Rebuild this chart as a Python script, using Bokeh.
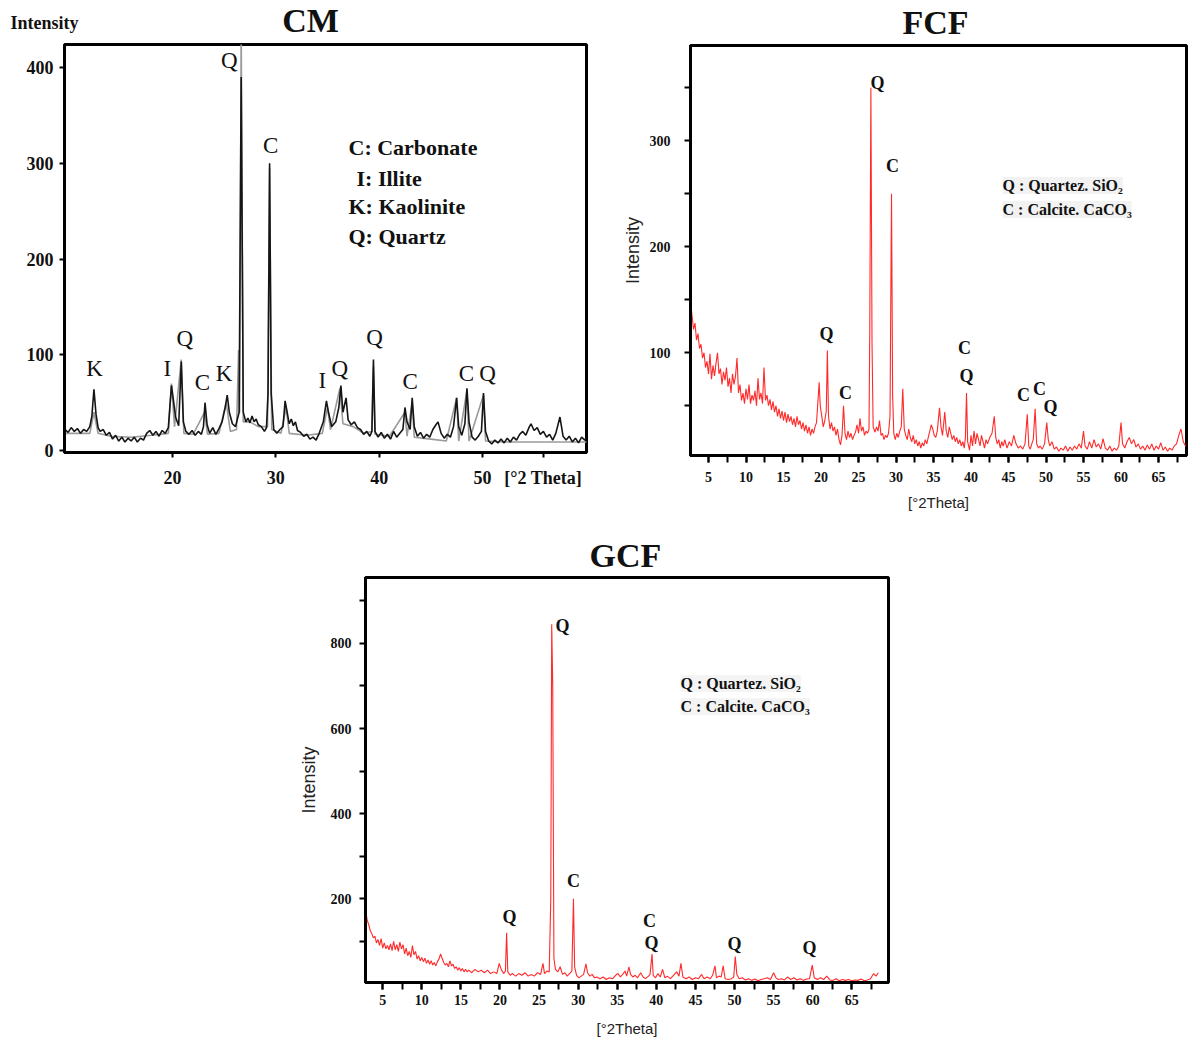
from bokeh.plotting import figure
from bokeh.models import Label, FixedTicker, Range1d
from bokeh.layouts import row, column, Spacer
from bokeh.embed import file_html
from bokeh.resources import INLINE

# ---------------- data ----------------
# CM, black trace: (2theta, intensity)
cm_black_pts = [
    (9.6, 22), (9.9, 19), (10.2, 24), (10.5, 20), (10.8, 23), (11.1, 18), (11.4, 22), (11.7, 20),
    (12.0, 25), (12.2, 36), (12.4, 64), (12.6, 38), (12.8, 24), (13.0, 20), (13.3, 22), (13.6, 16),
    (13.9, 19), (14.2, 12), (14.5, 16), (14.8, 10), (15.1, 14), (15.4, 9), (15.7, 13), (16.0, 10),
    (16.3, 14), (16.6, 9), (16.9, 13), (17.2, 11), (17.5, 18), (17.8, 21), (18.1, 16), (18.4, 20),
    (18.7, 15), (19.0, 21), (19.3, 18), (19.6, 24), (19.9, 68), (20.1, 52), (20.3, 35), (20.6, 26),
    (20.85, 93), (21.05, 30), (21.3, 20), (21.6, 17), (21.9, 21), (22.2, 16), (22.5, 20), (22.8, 17),
    (23.0, 25), (23.15, 50), (23.35, 27), (23.6, 18), (23.9, 24), (24.2, 17), (24.5, 23), (24.8, 30),
    (25.1, 45), (25.3, 58), (25.5, 40), (25.8, 28), (26.1, 25), (26.45, 40), (26.65, 390), (26.85, 40),
    (27.1, 30), (27.3, 34), (27.5, 29), (27.7, 36), (27.9, 30), (28.1, 33), (28.3, 27), (28.6, 25),
    (28.9, 20), (29.1, 24), (29.25, 60), (29.4, 300), (29.55, 60), (29.8, 22), (30.1, 18), (30.4, 22),
    (30.7, 25), (30.9, 52), (31.1, 40), (31.3, 28), (31.5, 33), (31.7, 26), (31.9, 30), (32.1, 21),
    (32.4, 19), (32.7, 15), (33.0, 17), (33.3, 12), (33.6, 14), (33.9, 11), (34.2, 18), (34.6, 30),
    (34.9, 52), (35.1, 40), (35.4, 25), (35.8, 30), (36.1, 45), (36.3, 68), (36.5, 40), (36.8, 55),
    (37.0, 32), (37.3, 27), (37.6, 30), (37.9, 24), (38.2, 22), (38.5, 17), (38.8, 20), (39.1, 15),
    (39.3, 20), (39.45, 95), (39.6, 20), (39.9, 14), (40.2, 19), (40.5, 13), (40.8, 17), (41.1, 12),
    (41.4, 20), (41.7, 14), (42.0, 18), (42.3, 22), (42.5, 45), (42.7, 30), (43.0, 22), (43.2, 55),
    (43.4, 25), (43.7, 15), (44.0, 19), (44.3, 13), (44.6, 17), (44.9, 14), (45.2, 22), (45.5, 27),
    (45.7, 30), (46.0, 18), (46.3, 13), (46.6, 17), (46.9, 14), (47.2, 25), (47.5, 55), (47.7, 25),
    (48.0, 16), (48.3, 28), (48.5, 65), (48.7, 30), (49.0, 14), (49.3, 11), (49.6, 15), (49.9, 20),
    (50.1, 60), (50.3, 20), (50.6, 10), (50.9, 7), (51.2, 11), (51.5, 8), (51.8, 12), (52.1, 8),
    (52.4, 13), (52.7, 9), (53.0, 14), (53.3, 11), (53.6, 17), (53.9, 20), (54.2, 16), (54.5, 24),
    (54.7, 28), (55.0, 21), (55.3, 24), (55.6, 17), (55.9, 20), (56.2, 14), (56.5, 17), (56.8, 11),
    (57.1, 18), (57.5, 35), (57.8, 15), (58.1, 11), (58.4, 15), (58.7, 9), (59.0, 13), (59.3, 8),
    (59.6, 14), (59.9, 11), (60.1, 14),
]
# CM, grey trace
cm_gray_pts = [
    (9.6, 18), (12.0, 18), (12.4, 40), (12.8, 18), (14.0, 15), (16.0, 14), (18.0, 16), (19.6, 18),
    (19.9, 70), (20.2, 25), (20.85, 95), (21.1, 18), (22.0, 17), (23.1, 40), (23.4, 17), (24.5, 18),
    (25.2, 50), (25.6, 20), (26.2, 22), (26.4, 105), (26.5, 40), (26.65, 440), (26.85, 30), (27.5, 30),
    (28.3, 25), (29.2, 25), (29.4, 295), (29.6, 22), (30.5, 18), (31.0, 45), (31.3, 18), (33.0, 16),
    (34.5, 18), (35.0, 45), (35.3, 22), (36.2, 65), (36.5, 28), (37.5, 25), (38.5, 18), (39.3, 20),
    (39.45, 88), (39.6, 17), (41.0, 15), (42.5, 40), (42.7, 15), (43.2, 50), (43.4, 14), (45.0, 12),
    (46.5, 10), (47.5, 55), (47.7, 10), (48.5, 63), (48.7, 10), (50.1, 58), (50.3, 10), (52.0, 9),
    (55.0, 9), (58.0, 9), (60.1, 9),
]
cm_lab_text = ["Q", "C", "K", "I", "Q", "C", "K", "I", "Q", "Q", "C", "C", "Q"]
cm_lab_x = [25.5, 29.5, 12.45, 19.5, 21.2, 22.9, 25.0, 34.5, 36.2, 39.55, 43.0, 48.45, 50.5]
cm_lab_y = [407, 319, 86, 86, 117, 71, 81, 73, 86, 118, 72, 80, 80]
cm_xticks = [20, 30, 40, 50]
cm_yticks = [0, 100, 200, 300, 400]

fcf_pts = [
    (2.6, 150), (2.8, 135), (3.0, 122), (3.2, 128), (3.4, 112), (3.6, 118), (3.8, 104), (4.0, 108),
    (4.2, 95), (4.4, 100), (4.6, 86), (4.8, 92), (5.0, 80), (5.2, 99), (5.4, 75), (5.6, 88), (5.8, 78),
    (6.0, 90), (6.2, 100), (6.4, 80), (6.6, 85), (6.8, 70), (7.0, 82), (7.2, 74), (7.4, 86), (7.6, 68),
    (7.8, 76), (8.0, 62), (8.2, 80), (8.4, 70), (8.6, 78), (8.8, 95), (9.0, 62), (9.2, 70), (9.4, 55),
    (9.6, 62), (9.8, 52), (10.0, 66), (10.2, 56), (10.4, 70), (10.6, 52), (10.8, 60), (11.0, 55),
    (11.2, 64), (11.4, 50), (11.6, 76), (11.8, 56), (12.0, 62), (12.2, 52), (12.4, 86), (12.6, 55),
    (12.8, 60), (13.0, 50), (13.2, 56), (13.4, 46), (13.6, 54), (13.8, 44), (14.0, 50), (14.2, 40),
    (14.4, 47), (14.6, 38), (14.8, 45), (15.0, 36), (15.2, 44), (15.4, 34), (15.6, 42), (15.8, 35),
    (16.0, 40), (16.2, 32), (16.4, 38), (16.6, 30), (16.8, 40), (17.0, 32), (17.2, 36), (17.4, 28),
    (17.6, 34), (17.8, 26), (18.0, 32), (18.2, 24), (18.4, 30), (18.6, 22), (18.8, 28), (19.0, 24),
    (19.2, 30), (19.4, 34), (19.6, 55), (19.75, 72), (19.9, 50), (20.1, 40), (20.3, 30), (20.5, 36),
    (20.7, 45), (20.85, 102), (21.0, 40), (21.2, 28), (21.4, 34), (21.6, 26), (21.8, 30), (22.0, 22),
    (22.2, 28), (22.4, 18), (22.6, 13), (22.8, 22), (23.0, 50), (23.2, 24), (23.4, 18), (23.6, 26),
    (23.8, 20), (24.0, 24), (24.2, 18), (24.4, 22), (24.6, 25), (24.8, 32), (25.0, 24), (25.2, 38),
    (25.4, 26), (25.6, 30), (25.8, 22), (26.0, 26), (26.2, 24), (26.4, 28), (26.5, 120), (26.65, 350),
    (26.8, 110), (26.95, 30), (27.2, 25), (27.4, 30), (27.6, 26), (27.8, 36), (28.0, 22), (28.2, 24),
    (28.4, 18), (28.6, 22), (28.8, 20), (29.0, 24), (29.2, 40), (29.4, 250), (29.55, 60), (29.7, 24),
    (29.9, 18), (30.1, 24), (30.3, 20), (30.5, 26), (30.7, 30), (30.9, 66), (31.1, 28), (31.3, 22),
    (31.5, 18), (31.7, 28), (31.9, 20), (32.1, 16), (32.3, 22), (32.5, 14), (32.7, 18), (32.9, 12),
    (33.1, 16), (33.3, 10), (33.5, 15), (33.7, 12), (33.9, 18), (34.1, 14), (34.3, 20), (34.5, 26),
    (34.7, 32), (34.9, 28), (35.1, 22), (35.3, 20), (35.5, 26), (35.8, 48), (36.0, 30), (36.2, 22),
    (36.5, 44), (36.7, 26), (36.9, 20), (37.1, 30), (37.3, 24), (37.5, 18), (37.7, 22), (37.9, 16),
    (38.1, 20), (38.3, 14), (38.5, 18), (38.7, 12), (38.9, 16), (39.1, 10), (39.25, 20), (39.4, 62),
    (39.55, 16), (39.8, 8), (40.0, 22), (40.2, 12), (40.4, 26), (40.6, 14), (40.8, 24), (41.0, 18),
    (41.2, 12), (41.4, 22), (41.6, 16), (41.8, 10), (42.0, 18), (42.2, 14), (42.5, 20), (42.8, 24),
    (43.1, 40), (43.3, 20), (43.5, 14), (43.7, 18), (43.9, 10), (44.1, 16), (44.3, 12), (44.5, 18),
    (44.8, 10), (45.1, 16), (45.4, 12), (45.7, 22), (46.0, 14), (46.3, 10), (46.6, 12), (46.9, 9),
    (47.2, 14), (47.5, 42), (47.7, 12), (47.9, 9), (48.1, 14), (48.3, 18), (48.55, 47), (48.75, 14),
    (49.0, 10), (49.2, 12), (49.5, 9), (49.8, 14), (50.1, 34), (50.3, 18), (50.5, 12), (50.8, 16),
    (51.1, 9), (51.4, 11), (51.7, 7), (52.0, 10), (52.3, 8), (52.6, 12), (52.9, 7), (53.2, 11),
    (53.5, 8), (53.8, 12), (54.1, 9), (54.4, 14), (54.7, 10), (55.0, 26), (55.2, 12), (55.5, 9),
    (55.8, 16), (56.1, 10), (56.4, 18), (56.7, 11), (57.0, 14), (57.3, 9), (57.6, 19), (57.9, 10),
    (58.2, 8), (58.5, 12), (58.8, 7), (59.1, 10), (59.4, 8), (59.7, 12), (60.0, 34), (60.2, 14),
    (60.5, 10), (60.8, 16), (61.1, 20), (61.4, 14), (61.7, 18), (62.0, 11), (62.3, 14), (62.6, 9),
    (62.9, 12), (63.2, 8), (63.5, 13), (63.8, 9), (64.1, 14), (64.4, 8), (64.7, 12), (65.0, 9),
    (65.3, 15), (65.6, 8), (65.9, 11), (66.2, 7), (66.5, 10), (66.8, 8), (67.1, 12), (67.4, 14),
    (67.7, 22), (68.0, 28), (68.3, 16), (68.6, 12),
]
fcf_lab_text = ["Q", "C", "Q", "C", "C", "Q", "C", "C", "Q"]
fcf_lab_x = [27.53, 29.53, 20.73, 23.27, 39.13, 39.4, 47.0, 49.13, 50.6]
fcf_lab_y = [355, 276, 118, 62, 104, 78, 60, 66, 49]
fcf_yticks = [100, 200, 300]

gcf_pts = [
    (2.9, 165), (3.0, 150), (3.2, 140), (3.4, 125), (3.6, 118), (3.8, 108), (4.0, 112), (4.2, 96),
    (4.4, 104), (4.6, 90), (4.8, 106), (5.0, 84), (5.2, 96), (5.4, 82), (5.6, 90), (5.8, 80), (6.0, 94),
    (6.2, 78), (6.4, 100), (6.6, 80), (6.8, 92), (7.0, 76), (7.2, 98), (7.4, 82), (7.6, 92), (7.8, 70),
    (8.0, 84), (8.2, 66), (8.4, 76), (8.6, 62), (8.8, 90), (9.0, 68), (9.2, 76), (9.4, 58), (9.6, 66),
    (9.8, 54), (10.0, 62), (10.2, 52), (10.4, 60), (10.6, 48), (10.8, 56), (11.0, 46), (11.2, 54),
    (11.4, 44), (11.6, 50), (11.8, 42), (12.0, 52), (12.2, 58), (12.4, 70), (12.6, 60), (12.8, 50),
    (13.0, 44), (13.2, 48), (13.4, 40), (13.6, 54), (13.8, 42), (14.0, 46), (14.2, 36), (14.4, 40),
    (14.6, 32), (14.8, 38), (15.0, 30), (15.2, 36), (15.4, 28), (15.6, 34), (15.8, 28), (16.0, 32),
    (16.4, 26), (16.8, 34), (17.2, 28), (17.6, 32), (18.0, 26), (18.4, 32), (18.8, 24), (19.2, 28),
    (19.6, 24), (19.9, 48), (20.2, 32), (20.5, 24), (20.7, 30), (20.85, 120), (21.0, 28), (21.3, 20),
    (21.6, 24), (22.0, 18), (22.4, 24), (22.8, 20), (23.2, 26), (23.6, 18), (24.0, 22), (24.4, 18),
    (24.8, 26), (25.2, 22), (25.5, 48), (25.7, 24), (26.0, 30), (26.3, 28), (26.5, 200), (26.62, 845),
    (26.75, 700), (26.9, 60), (27.1, 34), (27.4, 28), (27.7, 40), (28.0, 22), (28.3, 26), (28.6, 18),
    (28.9, 24), (29.2, 30), (29.4, 200), (29.55, 40), (29.8, 20), (30.1, 14), (30.4, 18), (30.7, 22),
    (31.0, 47), (31.2, 26), (31.5, 18), (31.8, 22), (32.1, 14), (32.4, 16), (32.8, 12), (33.2, 16),
    (33.6, 10), (34.0, 14), (34.4, 12), (34.8, 20), (35.1, 24), (35.4, 16), (35.7, 22), (36.0, 30),
    (36.2, 18), (36.5, 40), (36.7, 22), (37.0, 16), (37.3, 20), (37.6, 14), (38.0, 26), (38.3, 16),
    (38.6, 12), (39.0, 18), (39.2, 22), (39.45, 70), (39.6, 20), (39.9, 14), (40.2, 24), (40.5, 16),
    (40.8, 34), (41.1, 14), (41.4, 18), (41.8, 12), (42.2, 20), (42.6, 28), (42.9, 18), (43.15, 48),
    (43.4, 16), (43.8, 12), (44.2, 16), (44.6, 10), (45.0, 14), (45.4, 12), (45.8, 22), (46.1, 12),
    (46.5, 16), (46.9, 12), (47.2, 20), (47.5, 42), (47.7, 14), (48.0, 18), (48.3, 16), (48.55, 42),
    (48.8, 12), (49.2, 10), (49.6, 12), (49.9, 16), (50.1, 64), (50.3, 22), (50.6, 12), (51.0, 14),
    (51.4, 9), (51.8, 12), (52.2, 8), (52.6, 11), (53.0, 7), (53.4, 10), (53.8, 12), (54.2, 14),
    (54.6, 10), (55.0, 26), (55.3, 14), (55.6, 10), (56.0, 12), (56.4, 9), (56.8, 16), (57.2, 10),
    (57.6, 14), (58.0, 9), (58.4, 12), (58.8, 8), (59.2, 11), (59.6, 12), (59.95, 44), (60.2, 14),
    (60.6, 10), (61.0, 14), (61.4, 10), (61.8, 18), (62.2, 9), (62.6, 8), (63.0, 12), (63.4, 7),
    (63.8, 10), (64.2, 8), (64.6, 10), (65.0, 7), (65.4, 9), (65.8, 8), (66.2, 11), (66.6, 7),
    (67.0, 9), (67.4, 12), (67.8, 24), (68.1, 18), (68.4, 26),
]
gcf_lab_text = ["Q", "C", "Q", "C", "Q", "Q", "Q"]
gcf_lab_x = [28.0, 29.41, 21.23, 39.13, 39.39, 50.0, 59.6]
gcf_lab_y = [842, 242, 158, 148, 96, 94, 85]
gcf_yticks = [200, 400, 600, 800]

cf_xticks = list(range(5, 70, 5))
cf_xminor = [2.5 + 2.5 * i for i in range(27)]

cm_legend = ["C: Carbonate", "I: Illite", "K: Kaolinite", "Q: Quartz"]
cf_legend = ["Q : Quartez. SiO\u2082", "C : Calcite. CaCO\u2083"]

SERIF = "Liberation Serif"
SANS = "Liberation Sans"
INK = "#111111"


def base_fig(w, h, mb_left, mb_right, mb_top, mb_bottom, xr, yr):
    p = figure(width=w, height=h, output_backend="svg", toolbar_location=None,
               x_range=Range1d(*xr), y_range=Range1d(*yr),
               min_border_left=mb_left, min_border_right=mb_right,
               min_border_top=mb_top, min_border_bottom=mb_bottom)
    p.xgrid.visible = False
    p.ygrid.visible = False
    p.outline_line_color = "black"
    p.outline_line_width = 3
    p.outline_line_alpha = 1
    for ax in (p.xaxis[0], p.yaxis[0]):
        ax.axis_line_width = 3
        ax.axis_line_color = "black"
        ax.major_tick_line_color = "black"
        ax.minor_tick_line_color = "black"
        ax.major_tick_line_width = 2
        ax.minor_tick_line_width = 2
        ax.major_tick_in = 0
        ax.minor_tick_in = 0
        ax.major_label_text_font = SERIF
        ax.major_label_text_font_style = "bold"
        ax.major_label_text_color = INK
    return p


def header(w, h):
    p = figure(width=w, height=h, output_backend="svg", toolbar_location=None,
               x_axis_type=None, y_axis_type=None, min_border=0,
               x_range=Range1d(0, 1), y_range=Range1d(0, 1))
    p.outline_line_color = None
    p.xgrid.visible = False
    p.ygrid.visible = False
    return p


def slabel(p, px, py, text, size, style="bold", align="center", font=SERIF, **kw):
    # px, py: screen offsets from the frame's left / bottom edge
    p.add_layout(Label(x=px, y=py, x_units="screen", y_units="screen",
                       text=text, text_align=align, text_baseline="middle", text_font=font,
                       text_font_size=f"{size}px", text_font_style=style, text_color=INK, **kw))


def peak_labels(p, xs, ys, texts, size, style):
    for x, y, t in zip(xs, ys, texts):
        p.add_layout(Label(x=x, y=y, text=t, text_align="center", text_baseline="middle",
                           text_font=SERIF, text_font_size=f"{size}px", text_font_style=style,
                           text_color=INK))


def cf_axes(p, ystd, yminor, ylab_standoff, xlab_standoff, xtitle_standoff):
    p.xaxis.ticker = FixedTicker(ticks=cf_xticks, minor_ticks=cf_xminor)
    p.yaxis.ticker = FixedTicker(ticks=ystd, minor_ticks=yminor)
    p.xaxis.major_tick_out = 7
    p.xaxis.minor_tick_out = 7
    p.yaxis.major_tick_out = 6
    p.yaxis.minor_tick_out = 6
    p.xaxis.major_label_standoff = xlab_standoff
    p.yaxis.major_label_standoff = ylab_standoff
    p.xaxis.major_label_text_font_size = "14px"
    p.yaxis.major_label_text_font_size = "14px"
    p.yaxis.axis_label = "Intensity"
    p.xaxis.axis_label = "[\u00b02Theta]"
    p.yaxis.axis_label_text_font = SANS
    p.xaxis.axis_label_text_font = SANS
    p.yaxis.axis_label_text_font_style = "normal"
    p.xaxis.axis_label_text_font_style = "normal"
    p.yaxis.axis_label_text_color = "#222222"
    p.xaxis.axis_label_text_color = "#222222"
    p.yaxis.axis_label_text_font_size = "18px"
    p.xaxis.axis_label_text_font_size = "15px"
    p.xaxis.axis_label_standoff = xtitle_standoff


# ---------------- top titles (one text strip across both upper panels) ----------------
top_head = header(1188, 42)
slabel(top_head, 10, 20, "Intensity", 18, align="left")
slabel(top_head, 310, 22, "CM", 34)
slabel(top_head, 935, 20, "FCF", 34)

# ---------------- CM ----------------
cm = base_fig(606, 478, 64, 20, 2, 68, (9.55, 60.07), (-2, 424))
cm.line([a for a, b in cm_gray_pts], [b for a, b in cm_gray_pts], line_color="#9a9a9a", line_width=1.6)
cm.line([a for a, b in cm_black_pts], [b for a, b in cm_black_pts], line_color="#151515", line_width=1.6)
XT = 55.875  # position of the "[°2 Theta]" caption on the tick row
cm.xaxis.ticker = FixedTicker(ticks=cm_xticks + [XT])
cm.xaxis.major_label_overrides = {XT: "[\u00b02 Theta]"}
cm.yaxis.ticker = FixedTicker(ticks=cm_yticks)
cm.xaxis.major_tick_out = 5
cm.yaxis.major_tick_out = 5
cm.xaxis.major_label_standoff = 10
cm.yaxis.major_label_standoff = 6
cm.xaxis.major_label_text_font_size = "18px"
cm.yaxis.major_label_text_font_size = "18px"
peak_labels(cm, cm_lab_x, cm_lab_y, cm_lab_text, 23, "normal")
# legend block (frame-relative screen offsets; frame left = 64, bottom = 452)
for (px, py), t in zip([(284, 305), (292, 274), (284, 246), (284, 216)], cm_legend):
    slabel(cm, px, py, t, 22, align="left")

# ---------------- FCF ----------------
fcf = base_fig(582, 478, 84, 2, 3, 65, (2.6, 68.73), (3, 390))
fcf.line([a for a, b in fcf_pts], [b for a, b in fcf_pts], line_color="#ff2a2a", line_width=1.1)
cf_axes(fcf, fcf_yticks, [50, 150, 250, 350], 14, 9, 9)
fcf.yaxis.axis_label_standoff = 4
peak_labels(fcf, fcf_lab_x, fcf_lab_y, fcf_lab_text, 18, "bold")
# frame left = 690, bottom = 455
for (px, py), t in zip([(312, 270), (312, 246)], cf_legend):
    slabel(fcf, px, py, t, 16, align="left",
           background_fill_color="#f1f1f1", background_fill_alpha=0.9)

# ---------------- GCF ----------------
gcf_head = header(618, 54)
slabel(gcf_head, 260, 19, "GCF", 34)   # frame-relative (header frame aligns with the GCF frame)

gcf = base_fig(618, 466, 85, 10, 3, 58, (2.8, 69.7), (3, 955))
gcf.line([a for a, b in gcf_pts], [b for a, b in gcf_pts], line_color="#ff2a2a", line_width=1.1)
cf_axes(gcf, gcf_yticks, [100, 300, 500, 700, 900], 8, 5, 12)
gcf.yaxis.axis_label_standoff = 9
peak_labels(gcf, gcf_lab_x, gcf_lab_y, gcf_lab_text, 18, "bold")
# frame left = 365, bottom = 982
for (px, py), t in zip([(315, 299), (315, 276)], cf_legend):
    slabel(gcf, px, py, t, 16, align="left",
           background_fill_color="#f3f3f3", background_fill_alpha=0.9)

layout = column(
    top_head,
    row(column(cm), column(fcf)),
    row(Spacer(width=280, height=520), column(gcf_head, gcf)),
)

with open("out.html", "w") as f:
    f.write(file_html(layout, INLINE))
